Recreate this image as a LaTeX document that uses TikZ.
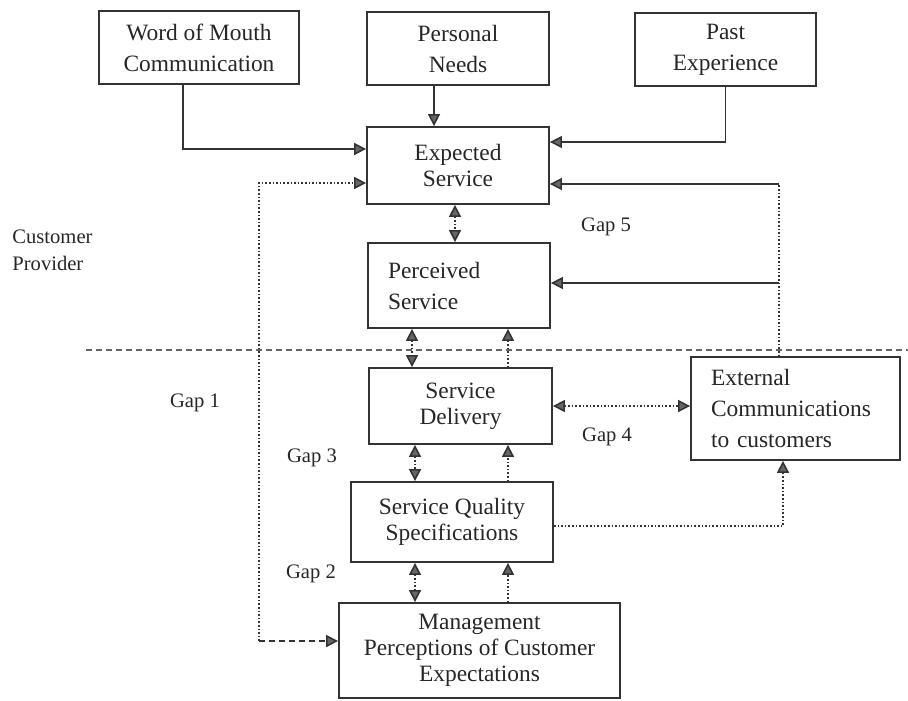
\documentclass[tikz,border=0pt]{standalone}
\usepackage{fontspec}
\setmainfont{Liberation Serif}
\usetikzlibrary{arrows.meta}
\begin{document}
\begin{tikzpicture}[x=0.5pt,y=-0.5pt,
  box/.style={draw=black!80, line width=0.9pt, text=black!85, align=center, inner sep=0pt,
    font=\fontsize{11.7}{15.5}\selectfont},
  tightbox/.style={box, font=\fontsize{11.7}{13}\selectfont},
  lbl/.style={text=black!85, font=\fontsize{10.3}{12}\selectfont, inner sep=0pt},
  tipA/.style={-{Triangle[length=6pt,width=6pt,fill=black!60]}},
  link/.style={draw=black!80, line width=0.8pt},
  solidarr/.style={link, tipA},
  dotarr/.style={link, densely dotted, tipA},
  dblarr/.style={link, densely dotted, {Triangle[length=6pt,width=6pt,fill=black!60]}-{Triangle[length=6pt,width=6pt,fill=black!60]}},
  sepline/.style={draw=black!60, line width=0.6pt, dash pattern=on 3pt off 2pt}
]
\useasboundingbox (0,0) rectangle (908,700);

% boxes
\node[box, minimum width=100pt, minimum height=36.5pt] (wom) at (199,47.5) {Word of Mouth\\Communication};
\node[box, minimum width=91pt, minimum height=36.5pt] (pn) at (458,48.5) {Personal\\Needs};
\node[box, minimum width=90.5pt, minimum height=36.5pt] (pe) at (725.5,49.5) {Past\\Experience};
\node[tightbox, minimum width=91pt, minimum height=38.5pt] (es) at (458,165.5) {Expected\\Service};
\node[box, align=left, text width=71pt, inner xsep=10pt, minimum height=42.5pt] (ps) at (459,285.5) {Perceived\\Service};
\node[tightbox, minimum width=91.5pt, minimum height=38pt] (sd) at (460.5,406) {Service\\Delivery};
\node[box, align=left, text width=84.5pt, inner xsep=10pt, minimum height=51.5pt] (ext) at (795.5,408.5) {External\\Communications\\to customers};
\node[tightbox, minimum width=101pt, minimum height=40pt] (sqs) at (452,522) {Service Quality\\Specifications};
\node[tightbox, minimum width=140.5pt, minimum height=47.5pt] (mgmt) at (479.5,650.5) {Management\\Perceptions of Customer\\Expectations};

% labels
\node[lbl, anchor=west] (cust) at (12,237) {Customer};
\node[lbl, anchor=west] (prov) at (12,263) {Provider};
\node[lbl] (g5) at (606,227) {Gap 5};
\node[lbl] (g1) at (195,403) {Gap 1};
\node[lbl] (g4) at (607,437) {Gap 4};
\node[lbl] (g3) at (312,458) {Gap 3};
\node[lbl] (g2) at (311,574) {Gap 2};

% separator
\coordinate (dl) at (86,350);
\coordinate (dr) at (908,350);
\draw[sepline] (dl) -- (dr);

% column coordinates
\coordinate (c1) at (455,0);
\coordinate (c2) at (412,0);
\coordinate (c3) at (415,0);
\coordinate (c4) at (508,0);

% inputs to expected service
\draw[solidarr] ([xshift=-8pt]wom.south) |- ([yshift=8.25pt]es.west);
\draw[solidarr] ([xshift=-12pt]pn.south) -- ([xshift=-12pt]es.north);
\draw[solidarr] (pe.south) |- ([yshift=11.75pt]es.east);

% gap 1 loop
\coordinate (lc) at (259,641);
\draw[dotarr] (lc) |- ([yshift=-8.75pt]es.west);
\draw[solidarr, dash pattern=on 3pt off 2pt] (lc) -- ([yshift=4.75pt]mgmt.west);

% vertical links
\draw[dblarr] (es.south -| c1) -- (ps.north -| c1);
\draw[dblarr] (ps.south -| c2) -- (sd.north -| c2);
\draw[dotarr] (sd.north -| c4) -- (ps.south -| c4);
\draw[dblarr] (sd.south -| c3) -- (sqs.north -| c3);
\draw[dotarr] (sqs.north -| c4) -- (sd.south -| c4);
\draw[dblarr] (sqs.south -| c3) -- (mgmt.north -| c3);
\draw[dotarr] (mgmt.north -| c4) -- (sqs.south -| c4);

% gap 4 links
\draw[dblarr] (sd.east) -- (sd.east -| ext.west);
\draw[dotarr] ([yshift=-2pt]sqs.east) -| ([xshift=-6.25pt]ext.south);

% external communications feedback
\coordinate (rtop) at (779,184);
\coordinate (rmid) at (779,283);
\draw[link, densely dotted] ([xshift=-8.25pt]ext.north) -- (rtop);
\draw[solidarr] (rtop) -- ([yshift=-9.25pt]es.east);
\draw[solidarr] (rmid) -- (ps.east |- rmid);
\end{tikzpicture}
\end{document}
